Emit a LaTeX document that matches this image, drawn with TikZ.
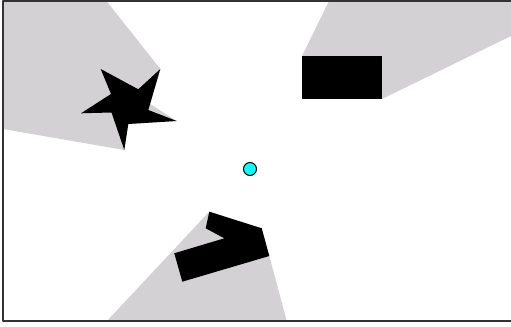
\documentclass[tikz,border=0pt]{standalone}
\usepackage{tikz}
\usetikzlibrary{calc}
\definecolor{shd}{RGB}{211,209,211}
\definecolor{lmp}{RGB}{0,255,255}

\begin{document}
\begin{tikzpicture}[x=0.02cm,y=-0.02cm,line join=round,
  shadowarea/.style={fill=shd,draw=none},
  block/.style={fill=black,draw=none},
  lamp/.style={circle,draw=black,fill=lmp,line width=0.6pt,minimum size=0.26cm,inner sep=0pt}]
  \useasboundingbox (0,0) rectangle (511,327);
  % shadows, cut off at the frame
  \begin{scope}
    \clip (3,1) rectangle (511,321);
    \fill[shadowarea] (3,1)--(106.5,1)--(160.3,69)--(150.2,104)--(176.7,121)--(128.3,124)--(124.3,150)--(3,129)--cycle;
    \fill[shadowarea] (329,1)--(302,56)--(382,99)--(513,35)--(513,1)--cycle;
    \fill[shadowarea] (209.3,211.7)--(106,322)--(287,322)--(269.3,256)--(261.7,228.3)--cycle;
  \end{scope}
  % obstacles
  \fill[block] (100.7,69)--(138.3,89.3)--(160.3,69)--(148.3,110)--(176.7,121)--(128.3,124)--(124.3,150)--(111.5,112.5)--(81,113.3)--(111,94)--cycle;
  \fill[block] (302,56) rectangle (382,99);
  \fill[block] (209.3,211.7)--(261.7,228.3)--(269.3,256)--(182.3,281.7)--(174.3,253.3)--(224.3,238.3)--(205.7,228.3)--cycle;
  \draw[line width=1pt,black!80] (514,1)--(3,1)--(3,321)--(514,321);
  \node[lamp] (lamp) at (250,169) {};
\end{tikzpicture}
\end{document}
